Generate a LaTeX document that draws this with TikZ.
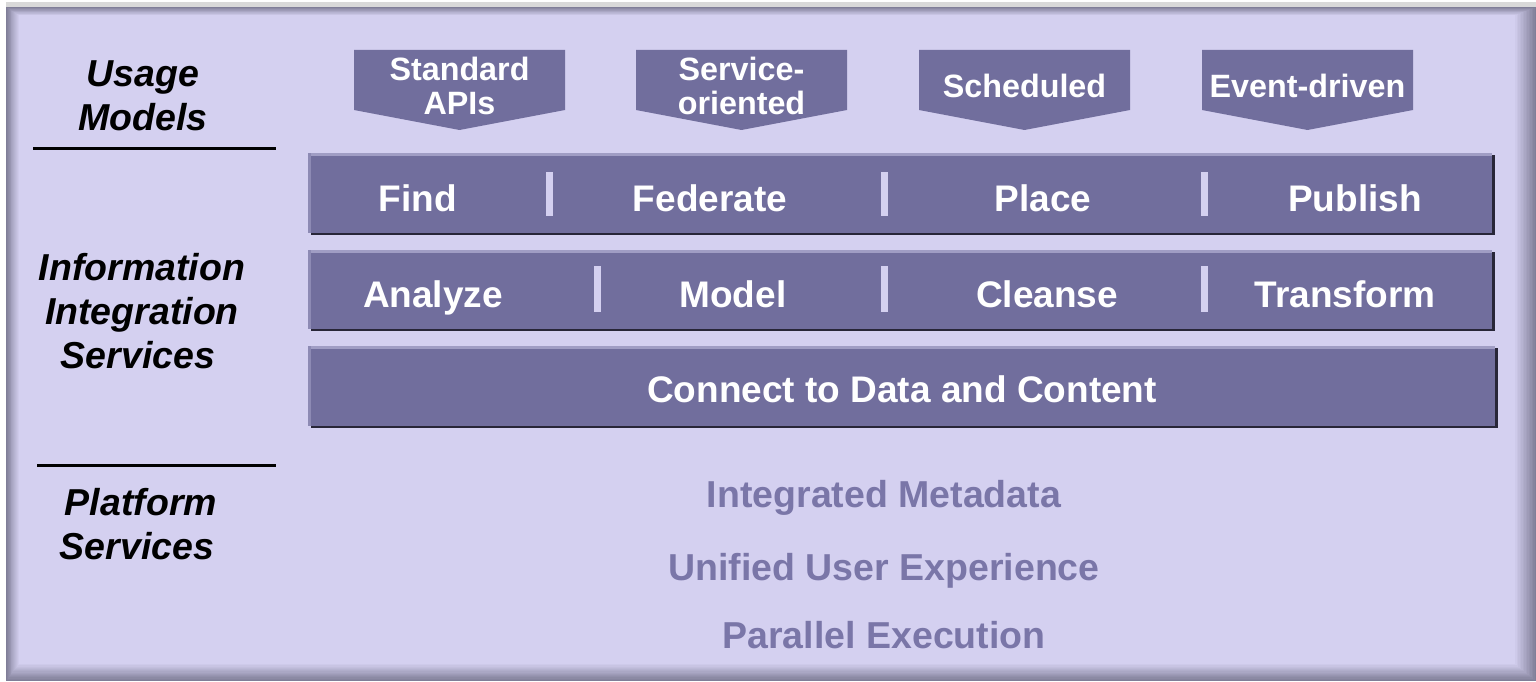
\documentclass[tikz,border=0pt]{standalone}
\usepackage{fontspec}
\setmainfont{Liberation Sans}
\definecolor{lav}{RGB}{212,208,240}
\definecolor{edgegray}{RGB}{128,126,152}
\definecolor{boxfill}{RGB}{113,110,157}
\definecolor{boxdark}{RGB}{40,38,56}
\definecolor{boxlight}{RGB}{160,157,196}
\definecolor{plat}{RGB}{122,118,168}
\tikzset{
  pent/.style={fill=boxfill},
  penttext/.style={font=\bfseries\fontsize{32.3}{33}\selectfont, text=white, align=center, inner sep=0pt},
  bartext/.style={font=\bfseries\fontsize{37}{44}\selectfont, text=white, inner sep=0pt, anchor=base},
  lefttext/.style={font=\bfseries\itshape\fontsize{37.5}{44}\selectfont, text=black, inner sep=0pt, anchor=base},
  plattext/.style={font=\bfseries\fontsize{37.5}{44}\selectfont, text=plat, inner sep=0pt, anchor=base},
  sep/.style={fill=lav},
  rule/.style={line width=3pt, black}
}
\newcommand{\barbox}[4]{%
  \fill[boxdark] (#1+3,#2+2) rectangle (#3+3,#4+2);
  \fill[boxfill] (#1,#2) rectangle (#3,#4);
  \fill[boxlight] (#1,#2) rectangle (#3,#2+3);
  \fill[boxlight!60!boxfill] (#1,#2) rectangle (#1+3,#4);
}
\begin{document}
\begin{tikzpicture}[x=1pt,y=-1pt]
\useasboundingbox (0,0) rectangle (1536,682);
\fill[white] (0,0) rectangle (1536,682);
\fill[black!15] (6,2) rectangle (1536,7);
% panel with bevelled edges
\foreach \i in {0,...,14}{
  \pgfmathsetmacro{\p}{100*\i/14}
  \fill[lav!\p!edgegray] (6+0.9*\i,7+0.6*\i) rectangle (1536-1.5*\i,681-1.2*\i);
}
% usage models pentagons
\fill[pent] (354,50) -- (565,50) -- (565,110) -- (459.5,130) -- (354,110) -- cycle;
\fill[pent] (636,50) -- (847,50) -- (847,110) -- (741.5,130) -- (636,110) -- cycle;
\fill[pent] (919,50) -- (1130,50) -- (1130,110) -- (1024.5,130) -- (919,110) -- cycle;
\fill[pent] (1202,50) -- (1413,50) -- (1413,110) -- (1307.5,130) -- (1202,110) -- cycle;
\node[penttext, anchor=base] (std1) at (459.5,81) {Standard};
\node[penttext, anchor=base] (std2) at (459.5,114) {APIs};
\node[penttext, anchor=base] (svc1) at (741.5,81) {Service-};
\node[penttext, anchor=base] (svc2) at (741.5,114) {oriented};
\node[penttext, anchor=base] (sch) at (1024.5,98) {Scheduled};
\node[penttext, anchor=base] (evt) at (1307.5,98) {Event-driven};
% bars
\barbox{308}{153}{1492}{233}
\barbox{308}{250}{1492}{329}
\barbox{308}{346}{1495}{426}
\fill[sep] (545.5,172) rectangle (552.5,216);
\fill[sep] (880.5,172) rectangle (887.5,216);
\fill[sep] (1200.5,172) rectangle (1207.5,216);
\fill[sep] (593.5,266) rectangle (600.5,312);
\fill[sep] (880.5,266) rectangle (887.5,312);
\fill[sep] (1200.5,266) rectangle (1207.5,312);
\node[bartext] (find) at (418,211.5) {Find};
\node[bartext] (fed) at (710,211.5) {Federate};
\node[bartext] (place) at (1043,211.5) {Place};
\node[bartext] (pub) at (1355,211.5) {Publish};
\node[bartext] (ana) at (433,307.5) {Analyze};
\node[bartext] (mod) at (733,307.5) {Model};
\node[bartext] (cle) at (1047,307.5) {Cleanse};
\node[bartext] (tra) at (1345,307.5) {Transform};
\node[bartext] (con) at (902,402.5) {Connect to Data and Content};
% left labels
\node[lefttext] (u1) at (143,86.5) {Usage};
\node[lefttext] (u2) at (143,130.5) {Models};
\node[lefttext] (i1) at (142,280.5) {Information};
\node[lefttext] (i2) at (142,324.5) {Integration};
\node[lefttext] (i3) at (138,368.5) {Services};
\node[lefttext] (p1) at (141,515) {Platform};
\node[lefttext] (p2) at (137,559) {Services};
\coordinate (r1a) at (33,148); \coordinate (r1b) at (276,148);
\coordinate (r2a) at (37,465); \coordinate (r2b) at (276,465);
\draw[rule] (r1a) -- (r1b);
\draw[rule] (r2a) -- (r2b);
% platform services
\node[plattext] (im) at (884,507.5) {Integrated Metadata};
\node[plattext] (uu) at (884,580.5) {Unified User Experience};
\node[plattext] (pe) at (884,648.5) {Parallel Execution};
\end{tikzpicture}
\end{document}
